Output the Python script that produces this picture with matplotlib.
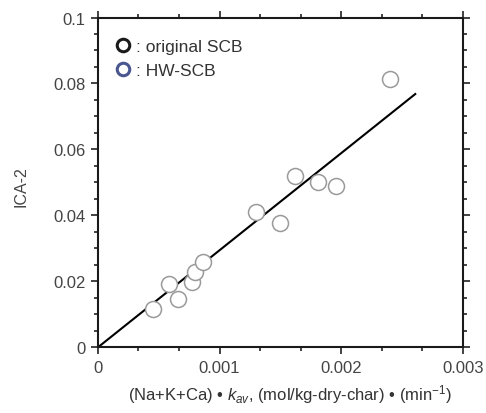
import matplotlib
matplotlib.use("Agg")
import matplotlib.pyplot as plt
from matplotlib.lines import Line2D
from matplotlib.ticker import MultipleLocator, FixedFormatter, FixedLocator

plt.rcParams['font.family'] = ['Liberation Sans', 'DejaVu Sans']
plt.rcParams['mathtext.fontset'] = 'custom'
plt.rcParams['mathtext.rm'] = 'Liberation Sans'
plt.rcParams['mathtext.it'] = 'Liberation Sans:italic'

# data
x_vals = [0.00045, 0.000585, 0.00066, 0.00077, 0.0008, 0.00086,
          0.0013, 0.0015, 0.00162, 0.00181, 0.00196, 0.0024]
y_vals = [0.0116, 0.0192, 0.0146, 0.0197, 0.0227, 0.0258,
          0.0409, 0.0377, 0.052, 0.050, 0.049, 0.0815]
fit_x = [0.0, 0.00261]
fit_y = [0.0, 0.0768]
legend_labels = [": original SCB", ": HW-SCB"]
legend_colors = ["#1a1a1a", "#4a5690"]
x_ticks = [0, 0.001, 0.002, 0.003]
x_tick_labels = ["0", "0.001", "0.002", "0.003"]
y_ticks = [0, 0.02, 0.04, 0.06, 0.08, 0.1]
y_tick_labels = ["0", "0.02", "0.04", "0.06", "0.08", "0.1"]

fig = plt.figure(figsize=(4.86, 4.14), dpi=100)
ax = fig.add_axes([0.2016, 0.1587, 0.7504, 0.7966])

ax.plot(fit_x, fit_y, color="black", lw=1.5, zorder=2)
ax.plot(x_vals, y_vals, linestyle="none", marker="o", ms=11.5,
        mfc="white", mec="#9a9a9a", mew=1.1, zorder=3)

ax.set_xlim(0, 0.003)
ax.set_ylim(0, 0.1)
ax.xaxis.set_major_locator(FixedLocator(x_ticks))
ax.xaxis.set_major_formatter(FixedFormatter(x_tick_labels))
ax.yaxis.set_major_locator(FixedLocator(y_ticks))
ax.yaxis.set_major_formatter(FixedFormatter(y_tick_labels))
ax.xaxis.set_minor_locator(MultipleLocator(0.001 / 3))
ax.yaxis.set_minor_locator(MultipleLocator(0.005))

ax.tick_params(which="both", direction="out", top=True, right=True,
               labeltop=False, labelright=False, width=1.2, colors="#222222",
               labelcolor="#444444", labelsize=12)
ax.tick_params(which="major", length=5, pad=4)
ax.tick_params(which="minor", length=3)
for s in ax.spines.values():
    s.set_linewidth(1.5)
    s.set_color("#1a1a1a")

ax.set_ylabel("ICA-2", fontsize=11.5, color="#444444")
ax.yaxis.set_label_coords(-0.19, 0.49)
ax.set_xlabel("(Na+K+Ca) \u2022 $k_{av}$, (mol/kg-dry-char) \u2022 (min$^{-1}$)",
              fontsize=12, color="#333333")
ax.xaxis.set_label_coords(0.526, -0.105)

handles = [Line2D([], [], linestyle="none", marker="o", ms=9, mfc="white",
                  mec=c, mew=2.2) for c in legend_colors]
leg = ax.legend(handles, legend_labels, loc="upper left", frameon=False,
                handlelength=0.8, handletextpad=0.35, labelspacing=0.5,
                fontsize=12.5, bbox_to_anchor=(0.03, 0.955), borderaxespad=0)
for t in leg.get_texts():
    t.set_color("#333333")

fig.savefig("out.png", dpi=100)
